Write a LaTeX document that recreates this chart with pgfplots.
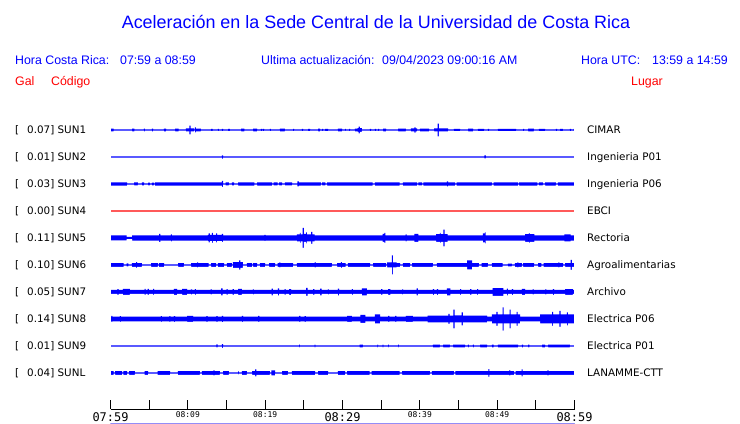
\documentclass[border=0pt]{standalone}
\usepackage{fontspec}
\setmainfont{Liberation Sans}
\newfontfamily\dejavu{DejaVu Sans}
\newfontfamily\dejavumono{DejaVu Sans Mono}
\usepackage{pgfplots}
\pgfplotsset{compat=1.18}
\usepackage{pgfplotstable}
\definecolor{sblue}{RGB}{0,0,255}
\definecolor{sred}{RGB}{255,0,0}

% envelopes: m = minutes after 07:59, h = half amplitude (px)
\pgfplotstableread{
m h
0 1.3
0.4 0.6
2.8 1.3
3.1 0.6
4.3 1.3
4.45 0.6
5.35 1.3
5.5 0.6
6.9 1.3
7.2 0.6
8.35 1.3
8.8 0.6
9.75 1.5
10.2 4.3
10.35 1.5
10.8 0.6
10.9 2.5
11.05 1.3
11.7 0.6
13.0 1.2
13.2 0.6
13.9 1.2
14.0 0.6
14.4 1.2
14.55 0.6
15.2 1.2
15.45 0.6
16.9 1.3
17.3 0.6
18.45 1.3
18.95 0.6
19.45 1.2
19.6 0.6
19.7 1.2
19.85 0.6
20.6 1.2
20.75 0.6
21.9 1.3
22.55 0.6
23.6 1.2
23.75 0.6
24.75 1.2
24.9 0.6
25.55 1.2
25.8 0.6
26.85 1.3
27.1 0.6
27.35 1.2
27.5 0.6
27.75 1.2
28.15 0.6
29.4 1.3
29.95 0.6
30.35 1.2
30.45 0.6
30.85 1.2
31.0 0.6
31.6 1.3
31.95 1.8
32.1 3.3
32.25 1.8
32.5 0.6
33.55 1.2
33.7 0.6
34.2 1.2
34.35 0.6
34.6 1.2
34.75 0.6
35.25 1.3
35.65 0.6
37.2 1.3
38.2 0.6
38.85 1.5
39.3 2.7
39.45 1.5
39.65 0.6
40.0 1.3
41.2 0.6
41.85 1.5
42.3 6.3
42.45 1.5
43.65 0.6
44.4 1.1
45.2 0.6
46.25 1.3
46.9 0.6
47.5 1.2
48.3 0.6
48.8 1.2
48.95 0.6
50.1 1.2
52.45 0.6
53.35 1.2
53.5 0.6
54.0 1.3
54.75 0.6
55.4 1.2
56.2 0.6
57.6 1.2
57.75 0.6
58.15 1.2
58.5 0.6
59.4 1.2
59.55 0.6
59.9 1.2
60 1.2
}\tSUNone

\pgfplotstableread{
m h
0 0.55
14.4 1.6
14.55 0.55
48.35 1.5
48.55 0.55
60 0.55
}\tSUNtwo

\pgfplotstableread{
m h
0 1.7
2.15 0.6
3.05 1.5
3.55 0.6
4.05 1.5
4.35 0.6
4.85 1.4
5.1 0.6
5.35 1.4
5.6 0.6
5.75 1.7
14.4 3.0
14.55 0.6
14.9 1.5
15.3 0.6
15.7 1.5
16.0 0.6
16.5 1.7
18.6 0.6
18.95 1.6
20.9 0.6
21.1 1.5
21.6 0.6
21.8 1.5
22.2 0.6
22.55 1.5
23.5 0.6
24.15 2.5
24.35 1.7
27.2 0.6
27.35 1.5
27.8 0.6
28.0 1.7
33.9 0.6
34.2 1.7
37.4 0.6
37.8 1.7
39.65 0.6
39.8 1.5
40.3 0.6
40.45 1.7
43.5 2.5
43.65 1.7
44.55 0.6
44.75 1.7
49.3 0.6
49.55 1.7
52.7 0.6
52.85 1.7
55.2 0.6
55.4 1.5
55.9 0.6
56.2 1.7
57.6 0.6
57.85 1.7
60 1.7
}\tSUNthree

\pgfplotstableread{
m h
0 0.6
60 0.6
}\tSUNfour

\pgfplotstableread{
m h
0 2.5
2.1 1.2
2.8 2.6
6.3 4.2
6.45 2.6
7.8 3.5
7.95 2.6
12.6 3.2
12.7 4.5
12.85 3.2
13.1 5.0
13.25 3.2
13.65 4.5
13.8 3.2
14.4 4.0
14.55 2.6
19.9 3.0
20.05 2.6
24.1 3.5
24.5 5.0
24.6 3.5
24.85 10.0
25.0 4.0
25.3 5.5
25.4 3.5
25.95 6.0
26.1 3.5
26.4 2.6
35.2 4.0
35.4 5.0
35.55 2.6
38.15 3.5
38.3 2.6
39.3 4.0
39.8 2.6
42.1 3.8
42.6 5.0
42.7 3.8
43.05 8.3
43.2 3.8
43.6 2.6
48.15 4.5
48.4 5.5
48.5 2.6
53.6 3.8
54.1 4.8
54.2 3.8
54.8 2.6
58.7 3.5
59.5 2.6
60 2.6
}\tSUNfive

\pgfplotstableread{
m h
0 1.8
1.7 0.6
2.1 1.5
2.3 0.6
2.78 1.8
3.3 2.8
3.45 1.8
4.07 0.6
5.24 1.8
6.14 0.6
6.27 1.8
6.92 0.6
8.73 1.8
9.5 0.6
10.41 1.8
11.2 2.5
11.33 1.8
12.7 0.6
13.0 1.8
13.65 0.6
13.9 1.8
14.68 0.6
15.06 1.8
15.7 0.6
15.84 2.8
16.62 4.7
16.8 2.8
17.13 0.6
17.65 1.8
18.3 0.6
18.43 1.8
18.95 0.6
19.33 1.8
19.98 0.6
20.5 1.8
21.3 0.6
21.6 1.8
21.85 2.5
21.98 1.8
23.6 0.6
24.1 1.8
26.4 2.5
26.55 1.8
28.64 0.6
29.3 1.8
29.8 2.8
29.93 1.8
30.4 0.6
30.7 1.8
33.56 0.6
33.95 1.8
35.63 0.6
35.76 2.5
36.38 9.5
36.52 2.5
37.0 1.8
37.44 0.6
37.82 1.8
38.73 0.6
39.0 1.8
41.7 0.6
42.2 1.8
46.1 4.5
46.75 1.8
47.65 0.6
48.0 1.8
48.8 0.6
49.3 1.8
50.7 0.6
51.4 1.4
51.9 0.6
52.3 1.8
52.6 2.5
52.73 1.8
53.2 0.6
53.34 1.8
54.77 0.6
55.3 1.8
55.7 0.6
56.0 1.8
57.9 2.5
58.03 1.8
58.52 0.6
58.78 1.8
59.5 5.0
59.65 1.8
60 1.8
}\tSUNsix

\pgfplotstableread{
m h
0 2.0
0.9 2.8
1.05 2.0
1.6 3.0
2.5 2.0
4.4 3.0
4.55 2.0
4.8 3.0
4.95 2.0
5.5 3.0
5.65 2.0
8.2 3.0
8.6 2.0
9.25 3.0
9.9 2.0
10.4 2.5
10.55 2.0
10.9 2.8
11.05 2.0
12.95 2.5
13.1 2.0
14.3 3.5
14.5 2.0
15.0 2.8
15.15 2.0
15.8 2.8
15.95 2.0
16.5 3.0
17.0 2.0
18.4 2.5
18.55 2.0
20.85 3.3
21.0 2.0
21.65 3.5
21.8 2.0
22.5 2.8
22.65 2.0
23.1 2.8
23.35 2.0
25.3 4.0
25.5 2.0
26.2 2.8
26.35 2.0
27.1 3.3
27.3 2.0
28.1 2.5
28.25 2.0
29.4 3.3
29.55 2.0
31.2 2.8
31.35 2.0
32.5 3.5
33.15 2.0
35.0 2.8
35.15 2.0
35.9 2.8
36.2 2.0
37.7 2.5
37.85 2.0
39.6 3.5
39.75 2.0
41.7 2.8
41.85 2.0
42.2 2.8
42.35 2.0
43.5 3.5
43.95 2.0
45.2 2.8
45.35 2.0
46.5 2.8
46.65 2.0
47.4 2.8
47.55 2.0
49.4 3.8
50.8 2.0
51.25 3.3
51.4 2.0
51.9 2.8
52.05 2.0
53.2 3.0
53.6 2.0
54.6 2.5
54.75 2.0
56.2 2.5
56.35 2.0
57.2 2.8
57.35 2.0
58.8 2.8
59.8 2.0
60 2.0
}\tSUNseven

\pgfplotstableread{
m h
0 2.3
0.1 3.0
0.25 2.3
1.2 2.8
1.35 2.3
6.5 2.8
6.65 2.3
7.6 2.8
7.75 2.3
8.2 2.8
8.35 2.3
9.9 3.0
10.7 2.3
12.4 2.8
12.55 2.3
13.7 2.8
13.85 2.3
14.4 3.2
14.55 2.3
17.0 3.0
17.15 2.3
19.1 3.0
19.25 2.3
24.4 3.0
24.55 2.3
25.1 2.8
25.25 2.3
30.6 3.0
31.2 2.3
32.3 4.0
32.95 2.3
34.2 4.5
34.85 2.3
35.9 3.0
36.05 2.3
36.8 3.0
36.95 2.3
38.2 3.0
39.1 2.3
41.0 3.3
43.7 5.0
43.85 3.3
44.35 9.3
44.5 3.5
45.4 6.5
45.55 3.3
48.7 2.3
49.3 4.5
49.9 7.0
50.05 4.5
50.7 11.7
50.85 4.5
51.6 9.3
51.75 4.5
52.5 7.0
52.65 4.5
52.96 2.3
55.54 4.5
57.1 7.0
57.25 4.5
58.05 8.0
58.2 4.5
59.0 6.5
59.15 4.5
60 4.5
}\tSUNeight

\pgfplotstableread{
m h
0 0.55
13.7 1.5
13.85 0.55
14.4 1.8
14.55 0.55
24.4 1.3
24.5 0.55
26.4 1.3
26.5 0.55
32.2 1.3
32.65 0.55
34.5 1.3
34.6 0.55
35.2 1.3
35.3 0.55
35.9 1.3
36.0 0.55
37.2 1.3
37.3 0.55
41.7 1.3
42.6 0.55
43.0 1.3
43.9 0.55
44.3 1.3
45.85 0.55
46.2 1.3
46.35 0.55
46.85 1.3
47.0 0.55
47.8 1.3
48.7 0.55
49.3 1.3
49.55 0.55
50.1 1.3
52.7 0.55
53.2 1.3
53.35 0.55
54.0 1.3
54.15 0.55
55.8 1.3
56.2 0.55
56.6 1.3
59.4 0.55
60 0.55
}\tSUNnine

\pgfplotstableread{
m h
0 1.8
0.4 0.6
0.6 1.8
1.5 0.6
1.65 1.8
2.15 0.6
2.4 1.8
3.15 0.6
4.4 1.8
4.85 0.6
6.1 1.8
7.7 0.6
8.7 1.8
11.55 0.6
11.8 1.8
13.3 2.5
13.45 1.8
14.15 0.6
14.55 1.8
15.3 0.6
16.5 1.5
16.6 0.6
17.0 1.8
17.65 0.6
18.3 1.8
18.7 3.5
18.85 1.8
20.6 0.6
20.8 2.5
21.3 0.6
22.2 1.8
22.95 0.6
23.45 1.8
26.45 0.6
26.85 1.8
28.15 0.6
29.4 1.8
30.35 0.6
30.6 1.8
33.5 0.6
33.75 1.8
37.4 0.6
37.7 1.8
41.3 0.6
41.55 1.8
44.4 0.6
44.6 1.8
48.85 3.8
49.0 1.8
51.55 2.5
51.7 1.8
52.2 0.6
52.4 1.8
53.15 3.5
53.3 1.8
56.5 2.5
56.65 1.8
60 1.8
}\tSUNL

% a trace: band between center+h and center-h (drawn top to bottom)
\newcommand{\trace}[3]{%
  \addplot[fill=#3, draw=none, const plot, forget plot] table[x=m, y expr={#2+\thisrow{h}}] {#1} \closedcycle;
  \addplot[fill=white, draw=none, const plot, forget plot] table[x=m, y expr={#2-\thisrow{h}}] {#1} \closedcycle;
}

\newcommand{\lab}[3]{% y-baseline, left text, right text
  \node[anchor=base west, inner sep=0pt, font=\dejavu\fontsize{10.4}{12}\selectfont] at (15bp,#1bp) {[};
  \node[anchor=base west, inner sep=0pt, font=\dejavu\fontsize{10.4}{12}\selectfont] at (27bp,#1bp) {#2};
  \node[anchor=base west, inner sep=0pt, font=\dejavu\fontsize{10.4}{12}\selectfont] at (587bp,#1bp) {#3};
}

\begin{document}
\begin{tikzpicture}
\path (0,0) rectangle (740bp,423bp);

% header
\node[anchor=base, inner sep=0pt, text=sblue, font=\fontsize{18}{20}\selectfont] at (376bp,394bp) {Aceleración en la Sede Central de la Universidad de Costa Rica};
\begin{scope}[every node/.style={anchor=base west, inner sep=0pt, font=\fontsize{12.4}{14}\selectfont}]
\node[text=sblue] at (15bp,358bp) {Hora Costa Rica:};
\node[text=sblue] at (120bp,358bp) {07:59 a 08:59};
\node[text=sblue] at (261bp,358bp) {Ultima actualización:};
\node[text=sblue] at (382bp,358bp) {09/04/2023 09:00:16 AM};
\node[text=sblue] at (581bp,358bp) {Hora UTC:};
\node[text=sblue] at (652bp,358bp) {13:59 a 14:59};
\node[text=sred] at (15bp,337bp) {Gal};
\node[text=sred] at (51bp,337bp) {Código};
\node[text=sred] at (631bp,337bp) {Lugar};
\end{scope}

% station labels
\lab{289}{0.07] SUN1}{CIMAR}
\lab{262}{0.01] SUN2}{Ingenieria P01}
\lab{235}{0.03] SUN3}{Ingenieria P06}
\lab{208}{0.00] SUN4}{EBCI}
\lab{181}{0.11] SUN5}{Rectoria}
\lab{154}{0.10] SUN6}{Agroalimentarias}
\lab{127}{0.05] SUN7}{Archivo}
\lab{100}{0.14] SUN8}{Electrica P06}
\lab{73}{0.01] SUN9}{Electrica P01}
\lab{46}{0.04] SUNL}{LANAMME-CTT}

% traces
\begin{axis}[
  at={(110.5bp,0bp)}, anchor=south west,
  scale only axis, width=464bp, height=423bp,
  xmin=0, xmax=60, ymin=0, ymax=423,
  hide axis, clip=false,
]
\trace{\tSUNone}{293}{sblue}
\trace{\tSUNtwo}{266}{sblue}
\trace{\tSUNthree}{239}{sblue}
\trace{\tSUNfour}{212}{sred}
\trace{\tSUNfive}{185}{sblue}
\trace{\tSUNsix}{158}{sblue}
\trace{\tSUNseven}{131}{sblue}
\trace{\tSUNeight}{104}{sblue}
\trace{\tSUNnine}{77}{sblue}
\trace{\tSUNL}{50}{sblue}
% erase hairline seams left at the two ends of the filled bands
\draw[white, line width=1.2bp] (axis cs:0,0) -- (axis cs:0,305);
\draw[white, line width=1.2bp] (axis cs:60,0) -- (axis cs:60,305);
\end{axis}

% time axis
\begin{axis}[
  at={(110.5bp,14bp)}, anchor=south west,
  scale only axis, width=464bp, height=20bp,
  xmin=0, xmax=60, ymin=0, ymax=1,
  clip=false,
  axis x line=bottom, hide y axis,
  x axis line style={-, black, line width=1bp},
  xtick={0,5,...,60},
  xticklabels={
    {\fontsize{12}{12}\selectfont 07:59},{},
    {\fontsize{8}{8}\selectfont\raisebox{3.8bp}{08:09}},{},
    {\fontsize{8}{8}\selectfont\raisebox{3.8bp}{08:19}},{},
    {\fontsize{12}{12}\selectfont 08:29},{},
    {\fontsize{8}{8}\selectfont\raisebox{3.8bp}{08:39}},{},
    {\fontsize{8}{8}\selectfont\raisebox{3.8bp}{08:49}},{},
    {\fontsize{12}{12}\selectfont 08:59}},
  xticklabel style={font=\dejavumono, anchor=base, inner sep=0pt, yshift=-12.5bp},
  tick align=inside,
  major tick length=9bp,
  tick style={black, line width=1bp},
  ytick=\empty,
]
\end{axis}
\end{tikzpicture}
\end{document}
